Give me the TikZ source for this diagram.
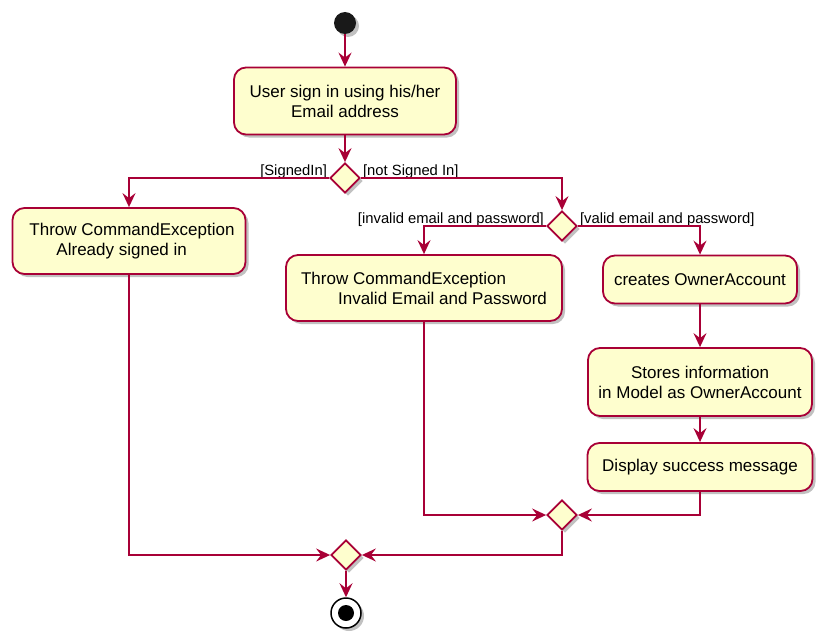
\documentclass[tikz,border=0pt]{standalone}
\usepackage{fontspec}
\setmainfont{Liberation Sans}
\usetikzlibrary{arrows.meta,shapes.geometric,shadows}
\definecolor{pborder}{HTML}{A80036}
\definecolor{pfill}{HTML}{FEFECE}
\tikzset{
  shad/.style={drop shadow={shadow xshift=3pt,shadow yshift=-3pt,opacity=0.35,fill=black!70}},
  actbox/.style={draw=pborder,fill=pfill,line width=1.8pt,rounded corners=12pt,
     inner sep=0pt,font=\fontsize{17}{20}\selectfont,shad},
  decis/.style={diamond,draw=pborder,fill=pfill,line width=1.8pt,inner sep=0pt,
     minimum width=30pt,minimum height=30pt,shad},
  arr/.style={draw=pborder,line width=1.8pt,-{Stealth[length=14pt,width=13pt,inset=5pt]}},
  guard/.style={font=\fontsize{14.8}{17}\selectfont,inner sep=0pt},
}
\begin{document}
\begin{tikzpicture}[x=1pt,y=-1pt]
\useasboundingbox (0,0) rectangle (826,642);
\node[circle,fill=black!90,minimum size=22pt,inner sep=0pt,shad] (start) at (345,23) {};
\node[actbox,minimum width=222pt,minimum height=67pt,align=center] (b1) at (345,101)
  {User sign in using his/her\\Email address};
\node[decis] (d1) at (345,178) {};
\node[actbox,minimum width=233pt,minimum height=66pt,align=left] (b2) at (129,241)
  {\hspace*{6pt}Throw CommandException\\\hspace*{33pt}Already signed in};
\node[decis] (d2) at (562,226) {};
\node[actbox,minimum width=276pt,minimum height=66pt,align=left] (b3) at (424,288)
  {Throw CommandException\\\hspace*{37pt}Invalid Email and Password};
\node[actbox,minimum width=194pt,minimum height=48pt] (b4) at (700,279.5)
  {creates OwnerAccount};
\node[actbox,minimum width=224pt,minimum height=68pt,align=center] (b5) at (700,382)
  {Stores information\\in Model as OwnerAccount};
\node[actbox,minimum width=225pt,minimum height=48pt] (b6) at (700,467)
  {Display success message};
\node[decis] (d3) at (562,515) {};
\node[decis] (d4) at (346,555) {};
\node[circle,draw=black,fill=white,line width=1.5pt,minimum size=30pt,inner sep=0pt,shad] (endo) at (346,613) {};
\node[circle,fill=black,minimum size=16pt,inner sep=0pt] (endi) at (endo.center) {};

\node[guard,anchor=base east] (l1) at ([xshift=-2pt,yshift=3pt]d1.west) {[SignedIn]};
\node[guard,anchor=base west] (l2) at ([xshift=2pt,yshift=3pt]d1.east) {[not Signed In]};
\node[guard,anchor=base east] (l3) at ([xshift=-2pt,yshift=3pt]d2.west) {[invalid email and password]};
\node[guard,anchor=base west] (l4) at ([xshift=2pt,yshift=3pt]d2.east) {[valid email and password]};

\draw[arr] (start) -- (b1);
\draw[arr] (b1) -- (d1);
\draw[arr] (d1.west) -| (b2.north);
\draw[arr] (d1.east) -| (d2.north);
\draw[arr] (d2.west) -| (b3.north);
\draw[arr] (d2.east) -| (b4.north);
\draw[arr] (b4) -- (b5);
\draw[arr] (b5) -- (b6);
\draw[arr] (b3.south) |- (d3.west);
\draw[arr] (b6.south) |- (d3.east);
\draw[arr] (b2.south) |- (d4.west);
\draw[arr] (d3.south) |- (d4.east);
\draw[arr] (d4) -- (endo);
\end{tikzpicture}
\end{document}
